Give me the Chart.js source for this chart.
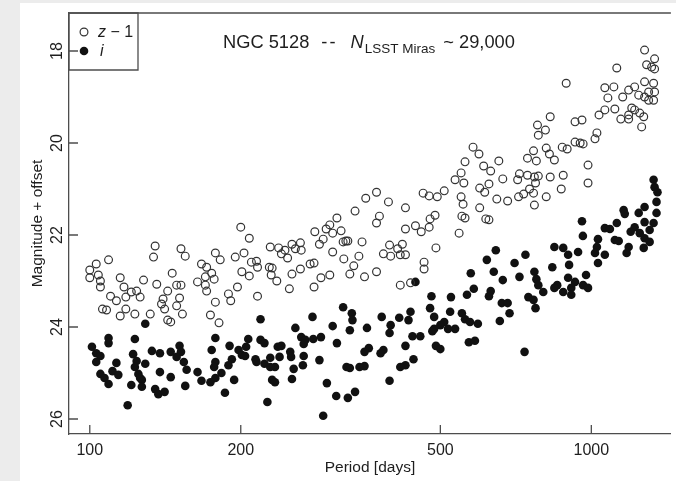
<!DOCTYPE html>
<html>
<head>
<meta charset="utf-8">
<script src="https://cdn.jsdelivr.net/npm/chart.js@4.4.1/dist/chart.umd.min.js"></script>
<style>
  html, body { margin: 0; padding: 0; width: 676px; height: 481px; overflow: hidden; background: #ececec; }
  #panel { position: absolute; left: 20px; top: 3px; right: 0; bottom: 0; background: #fff; }
  #c { position: absolute; left: 0; top: 0; }
</style>
</head>
<body>
<div id="panel"></div>
<canvas id="c" width="676" height="481"></canvas>
<script>
/* z - 1 (open circles): period [days], magnitude + offset */
var zPeriod = [
  135,134,152,155,109,103,100,104,100,105,105,115,128,146,136,117,121,124,126,118,110,113,143,149,152,140,139,141,151,149,153,106,108,118,115,123,132,143,145,164,167,171,170,170,171,
  200,208,229,238,245,253,263,264,257,241,248,178,182,195,203,210,215,216,228,231,230,236,208,201,253,263,250,275,280,281,296,301,311,305,317,292,287,320,324,305,321,301,289,280,216,197,189,191,178,181,174,175,177,
  581,597,560,610,550,535,557,599,613,550,555,599,552,560,616,545,509,493,475,462,488,477,475,458,446,426,426,394,373,355,338,378,373,349,327,344,336,330,353,373,396,411,420,385,398,416,426,490,464,464,416,436,
  891,828,928,958,781,810,784,928,950,963,875,895,813,825,844,767,746,777,654,985,630,879,828,719,746,770,784,774,666,713,625,985,871,753,733,767,716,813,681,648,770,625,
  1277,1337,1289,1319,1337,1124,1064,1109,1079,1187,1220,1155,1243,1277,1301,1331,1337,1277,1331,1301,1036,1064,1114,1204,1220,1187,1187,1145,1249,1272,1260,1026,1017
];
var zMag = [
  22.24,22.48,22.30,22.46,22.54,22.63,22.76,22.87,22.93,23.00,23.13,22.93,22.98,22.83,23.07,23.13,23.24,23.22,23.35,23.35,23.33,23.43,23.22,23.09,23.09,23.39,23.50,23.61,23.37,23.54,23.72,23.61,23.63,23.61,23.76,23.72,23.72,23.85,23.89,23.02,22.63,22.70,22.91,23.09,23.22,
  21.83,22.07,22.26,22.28,22.33,22.20,22.17,22.33,22.30,22.41,22.50,22.39,22.54,22.48,22.39,22.59,22.57,22.70,22.70,22.72,22.87,23.00,22.89,22.80,22.85,22.74,23.17,22.63,22.61,21.93,21.87,21.78,21.63,21.96,21.91,22.09,22.20,22.15,22.13,22.37,22.52,22.87,22.93,23.13,23.33,23.13,23.28,23.43,23.46,23.91,23.74,22.83,22.96,
  20.09,20.24,20.41,20.50,20.65,20.80,20.87,20.98,21.07,21.17,21.33,21.41,21.59,21.63,21.65,21.96,21.04,21.17,21.15,21.09,21.57,21.65,21.83,21.93,21.80,21.87,21.41,21.28,21.07,21.20,21.48,21.59,21.74,22.15,22.13,22.46,22.67,22.85,22.91,22.80,22.22,22.30,22.20,22.41,22.46,22.43,22.43,22.28,22.59,22.74,23.09,23.04,
  18.70,19.43,19.54,19.50,19.61,19.72,19.83,19.98,20.00,20.02,20.09,20.13,20.11,20.24,20.37,20.17,20.33,20.39,20.39,20.48,20.61,20.70,20.74,20.67,20.70,20.74,20.72,20.87,20.78,20.80,20.89,20.87,21.00,21.00,21.11,21.09,21.17,21.17,21.26,21.22,21.35,21.67,
  17.98,18.17,18.30,18.35,18.39,18.37,18.80,18.78,19.02,18.85,18.78,19.00,18.96,18.67,18.89,18.70,18.89,19.00,19.07,19.07,19.39,19.28,19.26,19.24,19.28,19.39,19.48,19.48,19.35,19.43,19.65,19.78,19.91
];

/* i (filled circles) */
var iPeriod = [
  129,109,109,123,101,103,105,103,122,133,138,145,151,152,149,154,124,129,123,113,111,114,105,107,109,125,127,126,127,121,138,145,156,155,135,137,141,119,164,167,
  219,278,257,305,320,311,178,175,190,198,205,207,219,223,237,241,251,252,264,269,267,279,289,267,287,266,255,201,192,189,178,177,183,178,174,214,215,229,239,223,234,229,204,194,231,234,253,297,325,338,310,327,186,226,292,
  446,575,583,565,480,525,477,486,523,552,560,573,594,509,500,486,482,518,535,490,500,570,586,436,432,414,398,396,382,357,333,334,330,440,456,426,385,380,360,353,442,426,416,353,345,330,396,
  958,962,844,879,899,941,903,836,739,703,645,619,639,719,770,777,784,666,630,625,855,844,879,899,928,912,912,976,963,985,802,749,767,774,663,681,687,657,736,
  1331,1337,1355,1349,1277,1349,1160,1166,1243,1331,1277,1124,1064,1089,1220,1198,1249,1307,1114,1134,1277,1307,1187,1176,1272,1031,1026,1017,1064,1031
];
var iMag = [
  23.93,24.24,24.35,24.26,24.43,24.57,24.63,24.76,24.59,24.52,24.57,24.54,24.41,24.54,24.65,24.76,24.74,24.80,24.87,24.78,24.96,25.04,25.02,25.11,25.24,25.02,25.15,25.11,25.30,25.26,24.98,25.09,24.93,25.28,25.35,25.46,25.41,25.70,24.98,25.17,
  23.83,23.78,24.02,23.98,23.57,24.35,24.24,24.50,24.41,24.50,24.43,24.26,24.28,24.35,24.43,24.41,24.54,24.65,24.22,24.28,24.37,24.26,24.22,24.63,24.72,24.83,24.91,24.61,24.70,24.83,24.76,24.87,25.00,25.11,25.20,24.70,24.76,24.67,24.65,24.80,24.87,24.87,24.63,25.15,25.15,25.20,25.13,25.22,24.87,25.41,25.50,25.54,25.43,25.63,25.93,
  23.02,22.83,23.17,23.30,23.33,23.35,23.59,23.78,23.67,23.70,23.83,23.89,23.93,23.89,23.96,24.04,24.09,24.04,24.04,24.41,24.48,24.33,24.30,23.67,23.85,23.80,23.96,24.13,23.78,24.02,23.70,23.85,24.07,24.20,24.20,24.41,24.50,24.57,24.46,24.54,24.70,24.83,24.87,24.85,24.87,24.89,25.17,
  21.70,22.02,22.26,22.28,22.43,22.37,22.65,22.70,22.43,22.61,22.33,22.54,22.80,22.91,22.80,22.96,23.09,22.98,23.22,23.33,23.09,23.15,23.24,22.93,23.02,23.15,23.30,22.87,23.09,23.15,23.24,23.35,23.41,23.59,23.48,23.48,23.70,23.87,24.54,
  20.80,20.96,21.07,21.28,21.39,21.52,21.46,21.54,21.52,21.74,21.72,21.74,21.85,21.87,21.83,21.93,21.96,21.89,22.11,22.13,22.07,22.15,22.26,22.39,22.28,22.09,22.26,22.39,22.43,22.61
];

var xTicks = [100, 200, 500, 1000];
var yTicks = [18, 20, 22, 24, 26];
var xRange = [90.9, 1441];
var yRange = [17.174, 26.326];

var FONT = '"Liberation Sans", Arial, Helvetica, sans-serif';
var INK = '#1e1e1e', FRAME = '#4d4d4d';

function zip(xs, ys) { return xs.map(function (x, k) { return { x: x, y: ys[k] }; }); }

function openDot(ctx, x, y) {
  ctx.beginPath(); ctx.arc(x, y, 3.9, 0, Math.PI * 2);
  ctx.lineWidth = 1.2; ctx.strokeStyle = '#333'; ctx.stroke();
}
function fullDot(ctx, x, y) {
  ctx.beginPath(); ctx.arc(x, y, 4.3, 0, Math.PI * 2);
  ctx.fillStyle = '#111'; ctx.fill();
}

/* box top edge, inward ticks, legend, in-plot title */
var decor = {
  id: 'decor',
  afterDraw: function (chart) {
    var ctx = chart.ctx, a = chart.chartArea, sx = chart.scales.x, sy = chart.scales.y;
    ctx.save();
    ctx.strokeStyle = FRAME; ctx.lineWidth = 1.3;
    ctx.beginPath();
    ctx.moveTo(a.left, a.top); ctx.lineTo(a.right, a.top);
    xTicks.forEach(function (v) { var p = sx.getPixelForValue(v); ctx.moveTo(p, a.bottom); ctx.lineTo(p, a.bottom - 9); });
    yTicks.forEach(function (v) { var p = sy.getPixelForValue(v); ctx.moveTo(a.left, p); ctx.lineTo(a.left + 9, p); });
    ctx.stroke();

    // legend
    ctx.beginPath(); ctx.rect(a.left, a.top, 69, 57); ctx.stroke();
    openDot(ctx, a.left + 15, a.top + 19);
    fullDot(ctx, a.left + 15, a.top + 38);
    ctx.fillStyle = INK; ctx.textBaseline = 'alphabetic'; ctx.textAlign = 'left';
    ctx.font = 'italic 16px ' + FONT;
    ctx.fillText('z', a.left + 29, a.top + 24);
    var zw = ctx.measureText('z').width;
    ctx.font = '16px ' + FONT;
    ctx.fillText(' \u2212 1', a.left + 29 + zw, a.top + 24);
    ctx.font = 'italic 16px ' + FONT;
    ctx.fillText('i', a.left + 31, a.top + 43);

    // title, laid out left to right
    var parts = [
      { t: 'NGC 5128', f: '18.3px ' + FONT, dy: 0, gap: 12, ls: '0px' },
      { t: '--', f: '18.3px ' + FONT, dy: 0, gap: 13, ls: '2px' },
      { t: 'N', f: 'italic 18.3px ' + FONT, dy: 0, gap: 1, ls: '0px' },
      { t: 'LSST Miras', f: '13.5px ' + FONT, dy: 5, gap: 8, ls: '0px' },
      { t: '~ 29,000', f: '18.3px ' + FONT, dy: 0, gap: 0, ls: '0px' }
    ];
    var cx = a.left + 154, base = a.top + 35;
    parts.forEach(function (p) {
      ctx.font = p.f; ctx.letterSpacing = p.ls;
      ctx.fillText(p.t, cx, base + p.dy);
      cx += ctx.measureText(p.t).width + p.gap;
    });
    ctx.letterSpacing = '0px';
    ctx.restore();
  }
};

new Chart(document.getElementById('c'), {
  type: 'scatter',
  data: {
    datasets: [
      { label: 'z - 1', data: zip(zPeriod, zMag), pointRadius: 3.9, pointHoverRadius: 3.9, borderWidth: 1.2, borderColor: '#333', backgroundColor: 'rgba(0,0,0,0)' },
      { label: 'i', data: zip(iPeriod, iMag), pointRadius: 4.3, pointHoverRadius: 4.3, borderWidth: 0, backgroundColor: '#111' }
    ]
  },
  options: {
    responsive: false,
    animation: false,
    events: [],
    layout: { padding: { top: 13, left: 0, right: 0, bottom: 0 } },
    plugins: { legend: { display: false }, tooltip: { enabled: false } },
    scales: {
      x: {
        type: 'logarithmic', min: xRange[0], max: xRange[1],
        afterBuildTicks: function (s) { s.ticks = xTicks.map(function (v) { return { value: v }; }); },
        afterFit: function (s) { s.height = 47; },
        ticks: { autoSkip: false, maxRotation: 0, padding: 7, color: INK, font: { family: FONT, size: 16 }, callback: function (v) { return String(v); } },
        grid: { display: true, drawOnChartArea: false, drawTicks: false },
        border: { display: true, color: FRAME, width: 1.3 },
        title: { display: true, text: 'Period [days]', color: INK, font: { family: FONT, size: 15.5 }, padding: { top: 0, bottom: 4 } }
      },
      y: {
        type: 'linear', reverse: true, min: yRange[0], max: yRange[1],
        afterBuildTicks: function (s) { s.ticks = yTicks.map(function (v) { return { value: v }; }); },
        afterFit: function (s) { s.width = 69; },
        ticks: { autoSkip: false, minRotation: 90, maxRotation: 90, crossAlign: 'center', padding: 3, color: INK, font: { family: FONT, size: 16 } },
        grid: { display: true, drawOnChartArea: false, drawTicks: false },
        border: { display: true, color: FRAME, width: 1.3 },
        title: { display: true, text: 'Magnitude + offset', color: INK, font: { family: FONT, size: 15.5 }, padding: { top: 28, bottom: 0 } }
      }
    }
  },
  plugins: [decor]
});
</script>
</body>
</html>
